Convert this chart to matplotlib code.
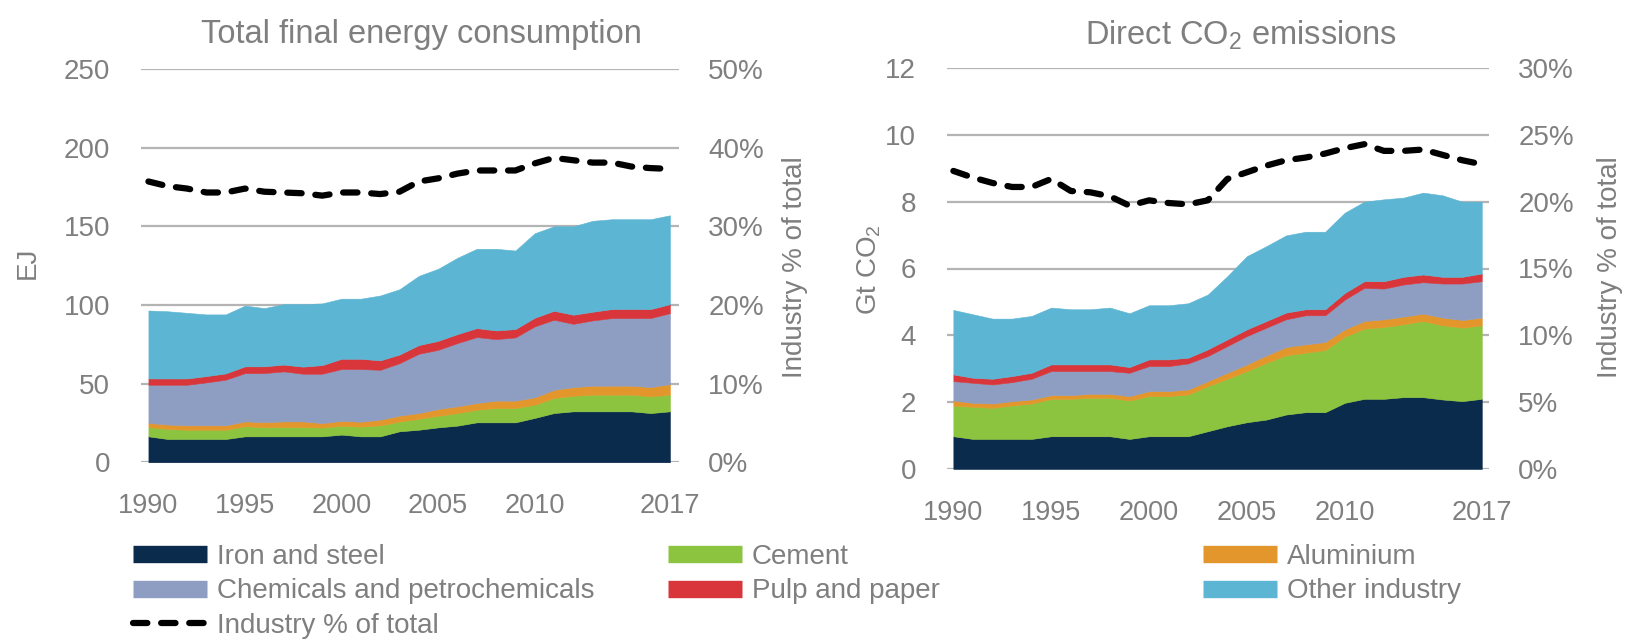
import matplotlib
matplotlib.use("Agg")
import matplotlib.pyplot as plt
from matplotlib.lines import Line2D
from matplotlib.ticker import PercentFormatter

plt.rcParams["font.family"] = ["Liberation Sans", "DejaVu Sans"]
plt.rcParams["mathtext.fontset"] = "custom"
plt.rcParams["mathtext.rm"] = "Liberation Sans"
plt.rcParams["mathtext.it"] = "Liberation Sans"

years = list(range(1990, 2018))
year_ticks = [1990, 1995, 2000, 2005, 2010, 2017]

# total final energy consumption, EJ
tfec_iron = [16.5, 14.8, 14.8, 14.8, 14.8, 16.5, 16.5, 16.5, 16.5, 16.5, 17.6, 16.5, 16.5, 19.7,
             20.7, 22.2, 23.3, 25.4, 25.4, 25.4, 28.2, 31.3, 32.4, 32.4, 32.4, 32.4, 31.3, 32.4]
tfec_cement = [5.9, 6.4, 5.9, 5.9, 5.9, 6.4, 5.8, 5.9, 5.9, 5.6, 5.6, 6.2, 7.0, 6.2,
               7.0, 7.4, 8.0, 8.0, 9.1, 9.1, 8.4, 9.6, 9.9, 10.6, 10.6, 10.6, 10.6, 10.6]
tfec_alu = [2.6, 2.8, 2.8, 2.8, 2.8, 3.1, 3.2, 3.6, 3.6, 2.8, 3.1, 3.1, 3.6, 3.8,
            3.6, 4.3, 4.3, 4.3, 4.7, 4.7, 4.7, 5.2, 5.5, 5.7, 5.7, 5.7, 5.9, 6.7]
tfec_chem = [24.3, 25.3, 25.8, 27.3, 29.0, 30.7, 31.2, 31.8, 30.3, 31.4, 33.0, 33.5, 31.7, 33.3,
             37.7, 37.6, 40.2, 41.9, 39.1, 40.2, 45.1, 44.5, 40.2, 41.5, 43.0, 43.0, 43.9, 45.1]
tfec_pulp = [4.0, 4.0, 4.0, 4.0, 4.0, 4.3, 4.3, 4.3, 4.5, 5.5, 6.5, 6.5, 6.0, 5.5,
             5.5, 5.7, 5.7, 5.7, 5.5, 5.3, 5.5, 5.7, 5.8, 5.5, 5.7, 5.7, 5.7, 5.7]
tfec_other = [43.2, 42.7, 41.7, 39.2, 37.5, 38.6, 37.0, 38.4, 39.7, 39.2, 38.2, 38.2, 41.2, 41.5,
              44.0, 45.8, 48.5, 50.4, 51.9, 49.9, 53.7, 53.7, 56.2, 57.8, 57.1, 57.1, 57.1, 56.5]
tfec_share = [35.7, 35.1, 34.8, 34.3, 34.3, 34.8, 34.4, 34.3, 34.2, 33.9, 34.3, 34.3, 34.1, 34.4,
              35.7, 36.1, 36.7, 37.1, 37.1, 37.1, 38.0, 38.7, 38.4, 38.1, 38.1, 37.6, 37.4, 37.3]

# direct CO2 emissions, Gt CO2
co2_iron = [0.98, 0.90, 0.90, 0.90, 0.90, 0.98, 0.98, 0.98, 0.98, 0.90, 0.98, 0.98, 0.98, 1.13,
            1.28, 1.40, 1.48, 1.63, 1.70, 1.70, 1.98, 2.10, 2.10, 2.15, 2.15, 2.08, 2.03, 2.10]
co2_cement = [0.92, 0.96, 0.93, 1.00, 1.06, 1.12, 1.12, 1.15, 1.15, 1.15, 1.20, 1.20, 1.25, 1.35,
              1.42, 1.53, 1.70, 1.77, 1.78, 1.86, 1.98, 2.10, 2.15, 2.18, 2.28, 2.22, 2.20, 2.20]
co2_alu = [0.15, 0.12, 0.13, 0.13, 0.12, 0.11, 0.11, 0.12, 0.12, 0.13, 0.15, 0.15, 0.15, 0.15,
           0.18, 0.20, 0.22, 0.25, 0.25, 0.24, 0.22, 0.23, 0.23, 0.23, 0.22, 0.23, 0.23, 0.23]
co2_chem = [0.58, 0.60, 0.57, 0.57, 0.62, 0.72, 0.72, 0.68, 0.68, 0.70, 0.75, 0.75, 0.78, 0.75,
            0.80, 0.85, 0.83, 0.83, 0.87, 0.80, 0.89, 0.99, 0.92, 0.96, 0.94, 1.02, 1.09, 1.09]
co2_pulp = [0.20, 0.15, 0.17, 0.18, 0.18, 0.20, 0.20, 0.20, 0.20, 0.17, 0.20, 0.20, 0.17, 0.20,
            0.20, 0.20, 0.20, 0.20, 0.18, 0.18, 0.20, 0.20, 0.22, 0.23, 0.23, 0.20, 0.20, 0.23]
co2_other = [1.93, 1.90, 1.80, 1.72, 1.70, 1.70, 1.65, 1.65, 1.70, 1.61, 1.62, 1.62, 1.63, 1.64,
             1.89, 2.19, 2.24, 2.31, 2.32, 2.32, 2.40, 2.38, 2.45, 2.37, 2.45, 2.44, 2.25, 2.15]
co2_share = [22.3, 21.8, 21.4, 21.1, 21.1, 21.7, 20.8, 20.7, 20.4, 19.7, 20.1, 19.9, 19.8, 20.1,
             21.7, 22.2, 22.7, 23.1, 23.3, 23.6, 24.0, 24.3, 23.8, 23.8, 23.9, 23.5, 23.1, 22.8]

sectors = ["Iron and steel", "Cement", "Aluminium",
           "Chemicals and petrochemicals", "Pulp and paper", "Other industry"]
colors = ["#0b2b4c", "#8dc43f", "#e3962b", "#8e9dc2", "#d8363a", "#5cb5d3"]

GREY = "#7f7f7f"
GRID = "#b4b4b4"
DASH = (0, (2.3, 2.2))
W, H = 1630, 644

fig = plt.figure(figsize=(16.3, 6.44), dpi=100)


def px(x0, y0, x1, y1):
    # pixel box (top-left origin) -> figure fraction rect
    return [x0 / W, 1 - y1 / H, (x1 - x0) / W, (y1 - y0) / H]


def panel(rect, xlim, stacks, share, ymax, ystep, pmax, pstep):
    ax = fig.add_axes(rect)
    ax.stackplot(years, *stacks, colors=colors, linewidth=0.4, edgecolor="face")
    ax.set_xlim(*xlim)
    ax.set_ylim(0, ymax)
    ax.set_yticks(range(0, ymax + 1, ystep))
    ax.set_xticks(year_ticks)
    ax.grid(axis="y", color=GRID, lw=1.6)
    ax.set_axisbelow(True)
    for s in ax.spines.values():
        s.set_visible(False)
    ax.tick_params(axis="y", length=0, pad=22, labelsize=20, labelcolor=GREY)
    ax.tick_params(axis="x", length=0, pad=22, labelsize=19.5, labelcolor=GREY)

    ax2 = ax.twinx()
    ax2.plot(years, share, color="black", lw=4.5, ls=DASH, dash_capstyle="round")
    ax2.set_ylim(0, pmax)
    ax2.set_yticks(range(0, pmax + 1, pstep))
    ax2.yaxis.set_major_formatter(PercentFormatter(decimals=0))
    for s in ax2.spines.values():
        s.set_visible(False)
    ax2.tick_params(axis="y", length=0, pad=21, labelsize=20, labelcolor=GREY)
    return ax, ax2


panel(px(140.7, 69, 679, 462.3), (1989.6, 2017.47),
      [tfec_iron, tfec_cement, tfec_alu, tfec_chem, tfec_pulp, tfec_other],
      tfec_share, 250, 50, 50, 10)
panel(px(946.7, 68, 1489, 469), (1989.66, 2017.37),
      [co2_iron, co2_cement, co2_alu, co2_chem, co2_pulp, co2_other],
      co2_share, 12, 2, 30, 5)

# titles and axis labels
fig.text(421 / W, 1 - 35 / H, "Total final energy consumption", ha="center", va="center",
         fontsize=23.5, color=GREY)
fig.text(1241 / W, 1 - 35 / H, "Direct CO$_2$ emissions", ha="center", va="center",
         fontsize=23.5, color=GREY)
fig.text(28 / W, 1 - 263 / H, "EJ", rotation=90, ha="center", va="center",
         fontsize=20, color=GREY)
fig.text(869 / W, 1 - 270 / H, "Gt CO$_2$", rotation=90, ha="center", va="center",
         fontsize=20, color=GREY)
fig.text(795 / W, 1 - 267 / H, "Industry % of total", rotation=90, ha="center", va="center",
         fontsize=20, color=GREY)
fig.text(1610 / W, 1 - 267 / H, "Industry % of total", rotation=90, ha="center", va="center",
         fontsize=20, color=GREY)

# legend, three columns placed by hand
patch = {name: Line2D([0], [0], color=c, lw=12.5, solid_capstyle="butt")
         for name, c in zip(sectors, colors)}
dash = Line2D([0], [0], color="black", lw=4.5, ls=DASH, dash_capstyle="round")
columns = [
    (133, [patch["Iron and steel"], patch["Chemicals and petrochemicals"], dash],
     ["Iron and steel", "Chemicals and petrochemicals", "Industry % of total"]),
    (668, [patch["Cement"], patch["Pulp and paper"]], ["Cement", "Pulp and paper"]),
    (1203, [patch["Aluminium"], patch["Other industry"]], ["Aluminium", "Other industry"]),
]
for x0, handles, labels in columns:
    leg = fig.legend(handles, labels, loc="upper left", bbox_to_anchor=(x0 / W, 1 - 544 / H),
                     frameon=False, fontsize=20, handlelength=2.66, handletextpad=0.36,
                     labelspacing=0.3, borderpad=0, borderaxespad=0)
    for t in leg.get_texts():
        t.set_color(GREY)

fig.savefig("out.png", dpi=100)
